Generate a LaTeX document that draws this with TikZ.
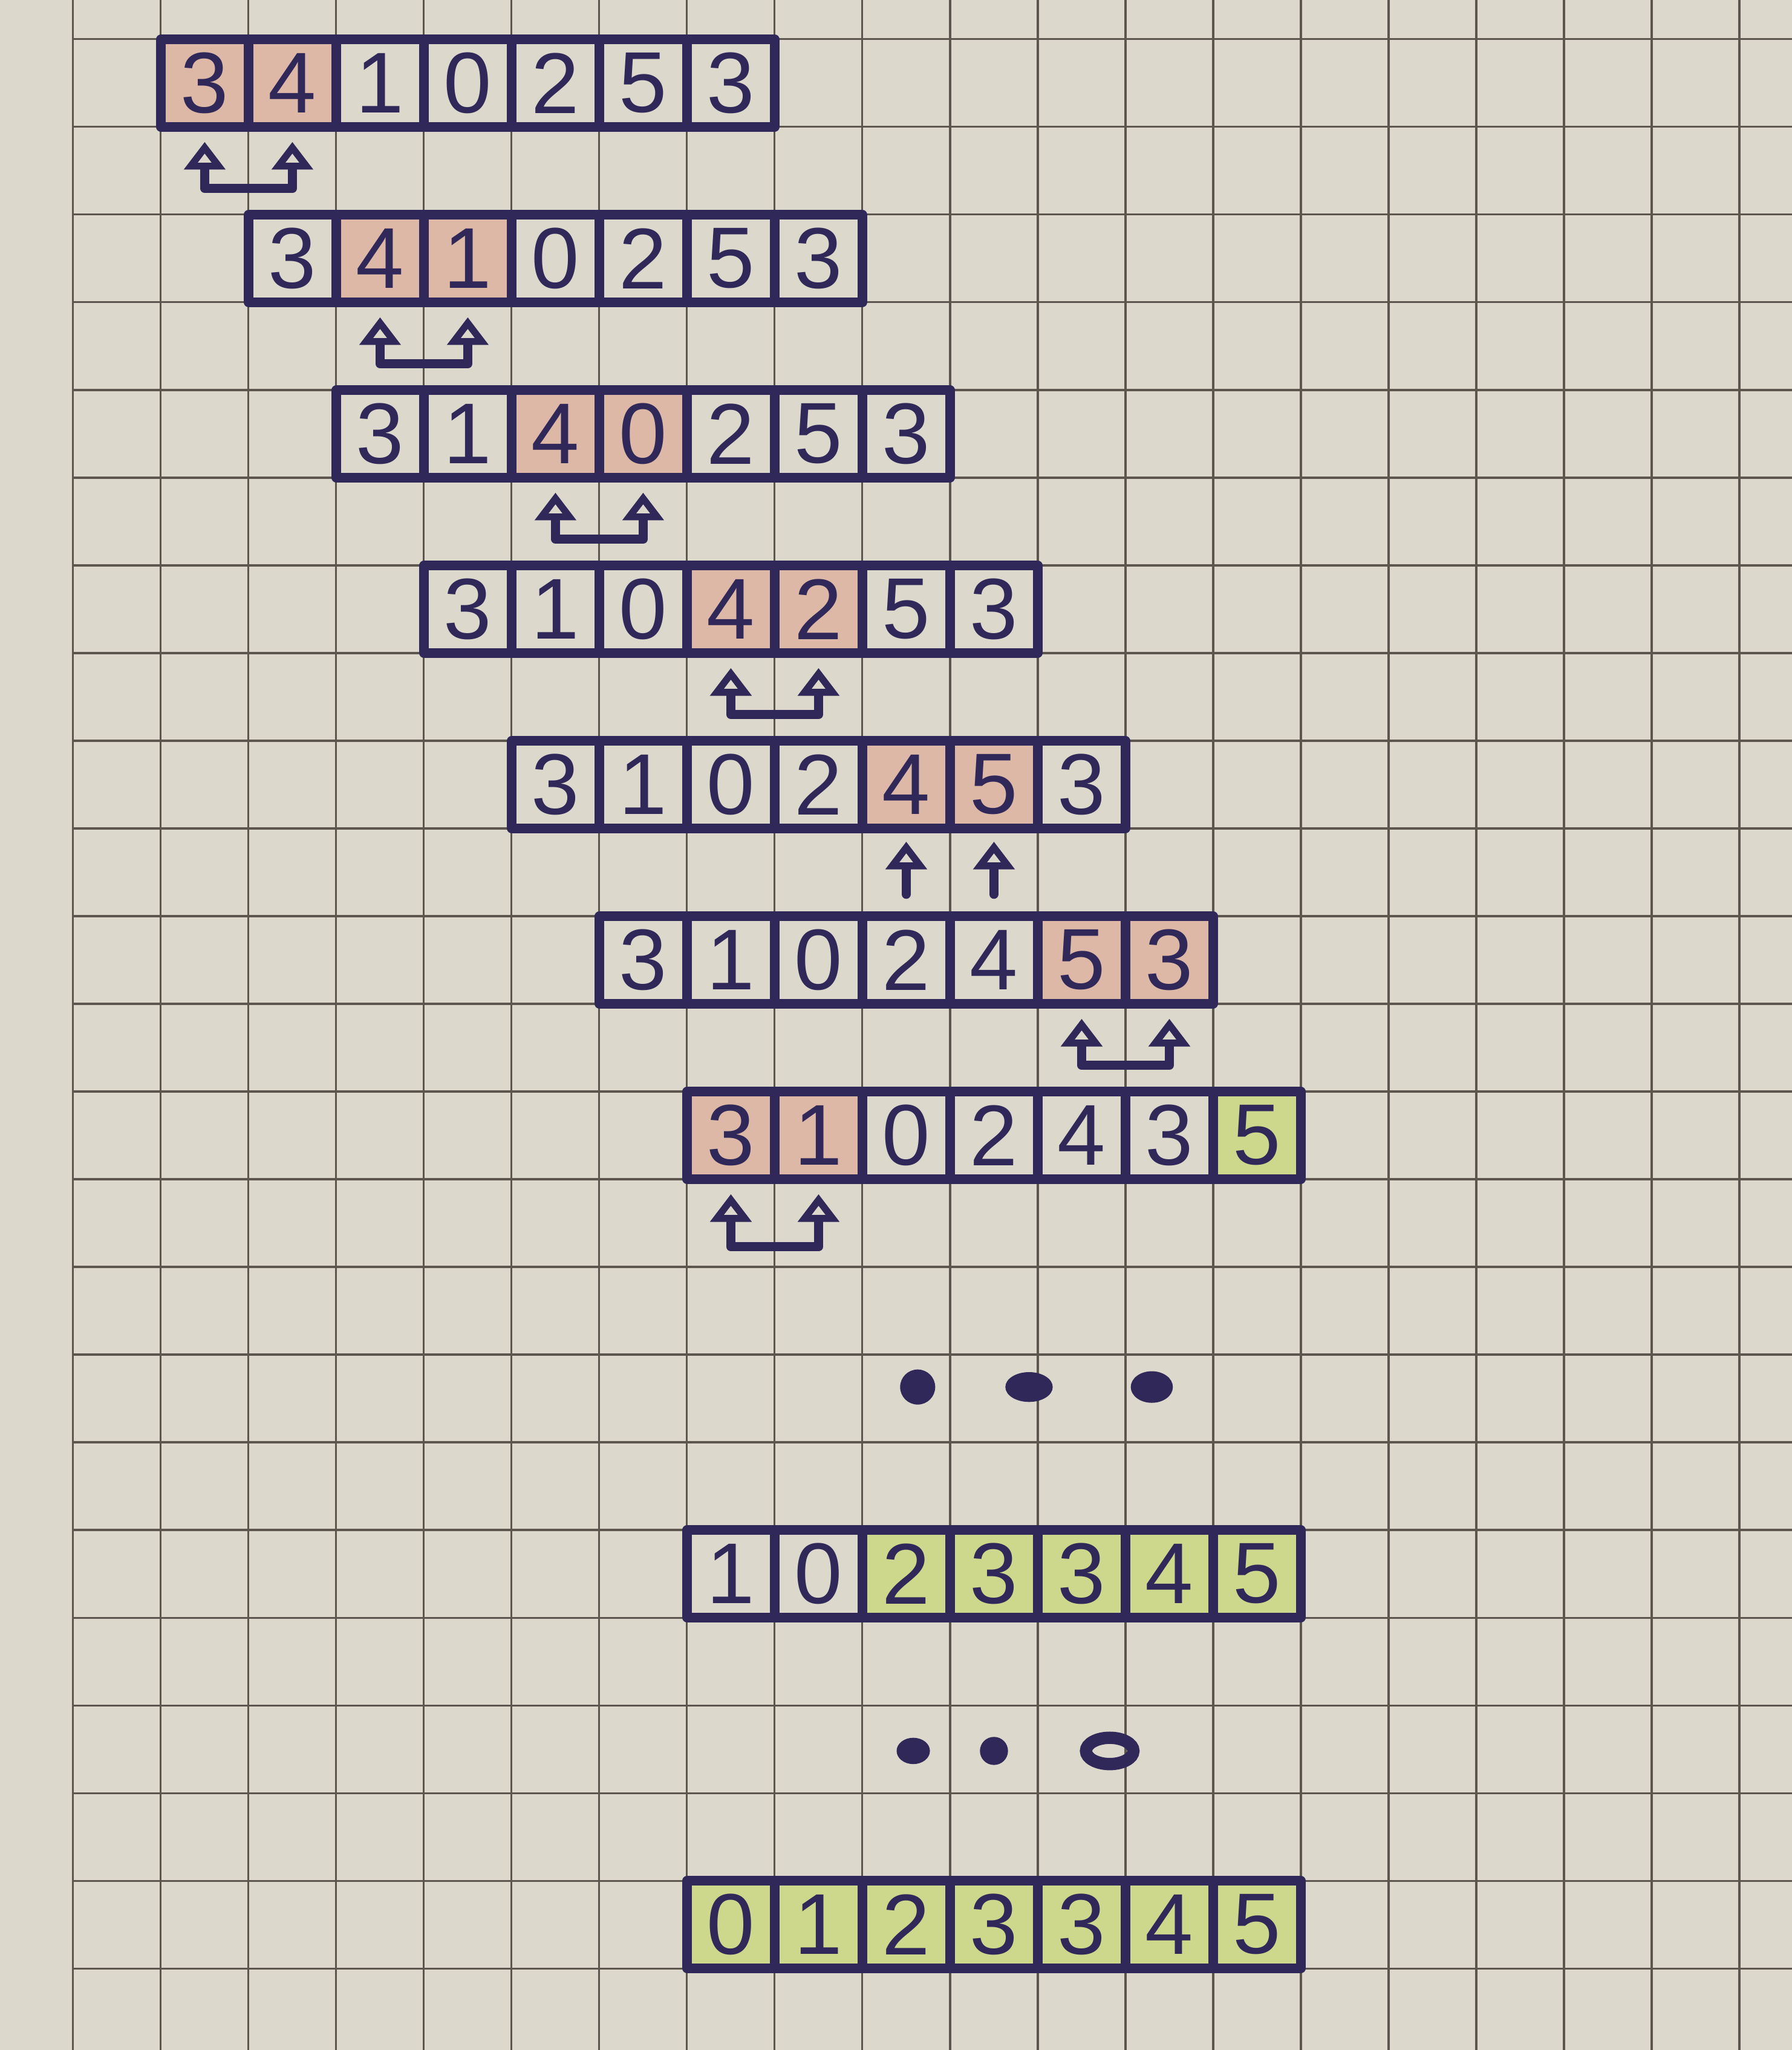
\documentclass[tikz,border=0pt]{standalone}
\usepackage{fontspec}
\setmainfont{Liberation Sans}
\usetikzlibrary{arrows.meta, positioning, calc}

\definecolor{paper}{RGB}{220,216,204}
\definecolor{gridrule}{RGB}{92,86,78}
\definecolor{ink}{RGB}{48,40,88}
\definecolor{hot}{RGB}{221,184,166}
\definecolor{done}{RGB}{206,216,140}

% one pass of the array: name, left column, top row, value/fill list
\newcommand{\passrow}[4]{%
  \foreach \v/\f [count=\i from 0] in {#4}
    \node[cell, fill=\f] (#1-\i) at (#2+\i+0.5, #3+0.5) {\v};
  \draw[pen] (#1-0.north west) rectangle (#1-6.south east);
  \foreach \i in {1,...,6}
    \draw[pen] (#1-\i.north west) -- (#1-\i.south west);
}

\begin{document}
\begin{tikzpicture}[x=1cm, y=-1cm,
        cell/.style={minimum width=1cm, minimum height=1cm, inner sep=0pt, outer sep=0pt, text=ink, font=\fontsize{28}{28}\selectfont},
        pen/.style={draw=ink, line width=3pt, line join=round},
        swap/.style={pen, line cap=round, {Triangle[open, length=9pt, width=13pt]}-{Triangle[open, length=9pt, width=13pt]}},
        lift/.style={pen, line cap=round, -{Triangle[open, length=9pt, width=13pt]}}
    ]

        \fill[paper] (0,0) rectangle (20.434,23.379);
        \useasboundingbox (0,0) rectangle (20.434,23.379);

    \begin{scope}[shift={(0.834,0.448)}]

        % squared paper
        \foreach \k in {0,...,19}
            \draw[gridrule, line width=0.6pt] (\k,-0.448) -- (\k,22.931);
        \foreach \j in {0,...,22}
            \draw[gridrule, line width=0.6pt] (0,\j) -- (19.6,\j);

        \passrow{p0}{1}{0}{3/hot,4/hot,1/none,0/none,2/none,5/none,3/none}
        \draw[swap] ([yshift=-0.17cm]p0-0.south) -- ++(0,0.53) -| ([yshift=-0.17cm]p0-1.south);

        \passrow{p1}{2}{2}{3/none,4/hot,1/hot,0/none,2/none,5/none,3/none}
        \draw[swap] ([yshift=-0.17cm]p1-1.south) -- ++(0,0.53) -| ([yshift=-0.17cm]p1-2.south);

        \passrow{p2}{3}{4}{3/none,1/none,4/hot,0/hot,2/none,5/none,3/none}
        \draw[swap] ([yshift=-0.17cm]p2-2.south) -- ++(0,0.53) -| ([yshift=-0.17cm]p2-3.south);

        \passrow{p3}{4}{6}{3/none,1/none,0/none,4/hot,2/hot,5/none,3/none}
        \draw[swap] ([yshift=-0.17cm]p3-3.south) -- ++(0,0.53) -| ([yshift=-0.17cm]p3-4.south);

        \passrow{p4}{5}{8}{3/none,1/none,0/none,2/none,4/hot,5/hot,3/none}
        \draw[lift] ([yshift=-0.75cm]p4-4.south) -- ([yshift=-0.15cm]p4-4.south);
        \draw[lift] ([yshift=-0.75cm]p4-5.south) -- ([yshift=-0.15cm]p4-5.south);

        \passrow{p5}{6}{10}{3/none,1/none,0/none,2/none,4/none,5/hot,3/hot}
        \draw[swap] ([yshift=-0.17cm]p5-5.south) -- ++(0,0.53) -| ([yshift=-0.17cm]p5-6.south);

        \passrow{p6}{7}{12}{3/hot,1/hot,0/none,2/none,4/none,3/none,5/done}
        \draw[swap] ([yshift=-0.17cm]p6-0.south) -- ++(0,0.6) -| ([yshift=-0.17cm]p6-1.south);

        % skipped passes
        \fill[ink] (9.63,15.37) circle (0.2);
        \fill[ink] (10.9,15.37) ellipse (0.27 and 0.17);
        \fill[ink] (12.3,15.37) ellipse (0.24 and 0.18);

        \passrow{p7}{7}{17}{1/none,0/none,2/done,3/done,3/done,4/done,5/done}

        \fill[ink] (9.58,19.52) ellipse (0.19 and 0.15);
        \fill[ink] (10.5,19.52) circle (0.16);
        \draw[ink, line width=4pt] (11.82,19.52) ellipse (0.27 and 0.15);

        \passrow{p8}{7}{21}{0/done,1/done,2/done,3/done,3/done,4/done,5/done}

    \end{scope}
\end{tikzpicture}
\end{document}
